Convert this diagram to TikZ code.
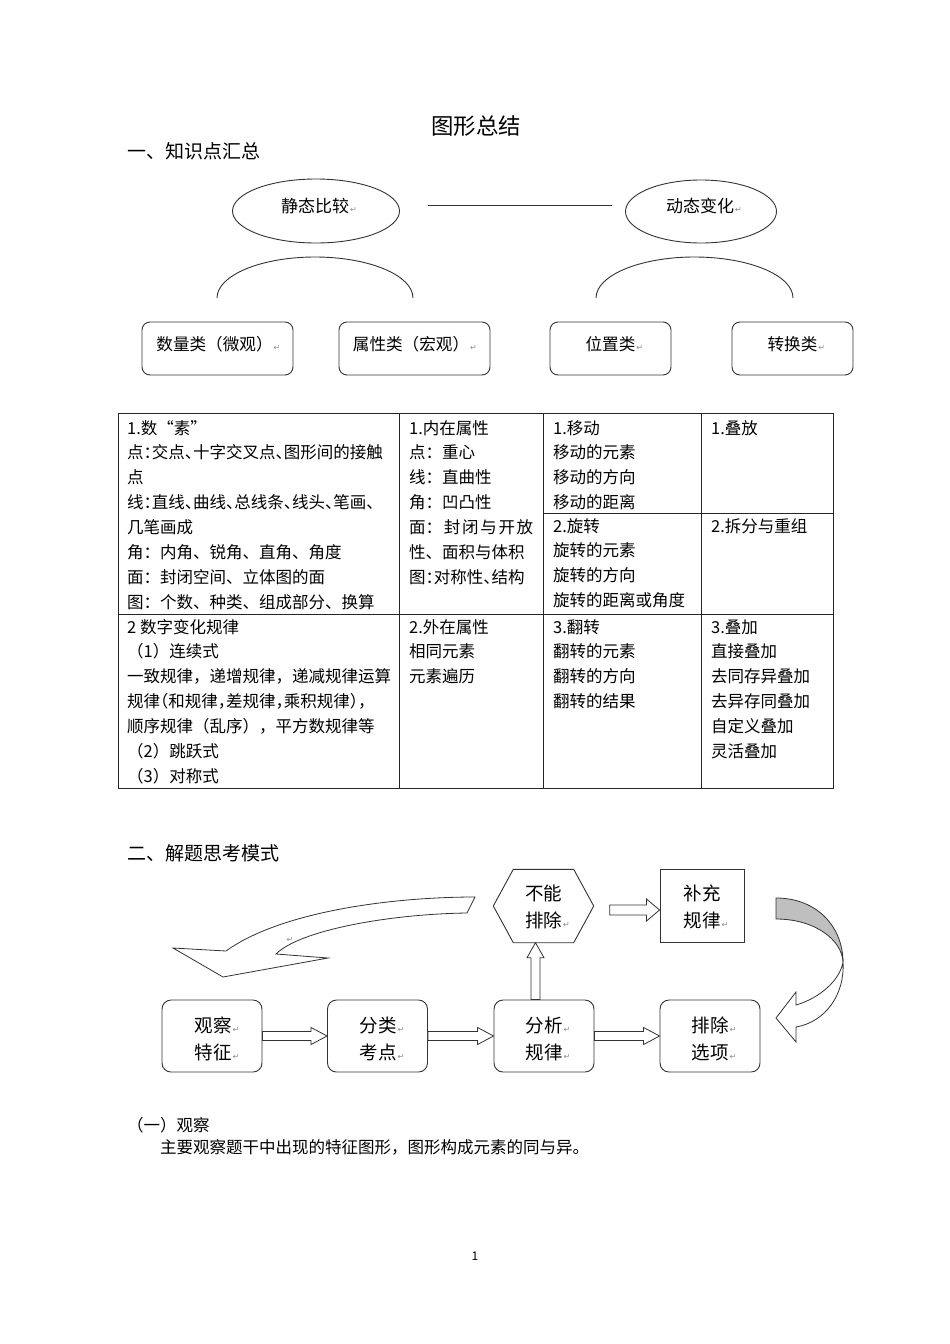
\documentclass[tikz,border=0pt]{standalone}
\usepackage{fontspec}
\setmainfont{Noto Sans CJK SC}
\newfontfamily\cjkh[RawFeature=+halt]{Noto Sans CJK SC}
\newfontfamily\djv{DejaVu Sans}
\usetikzlibrary{shapes.geometric,calc}
\newcommand\fs[1]{\fontsize{#1}{#1}\selectfont}
\newcommand\parmk{\rlap{\kern1pt{\djv\fontsize{8}{8}\selectfont\color{black!45}↵}}}
\newcommand\cellx[4]{%
  \foreach \t [count=\i] in {#4} {\node[tx, anchor=base west] (#1-\i) at (#2, #3+24.9*\i-24.9) {\t};}%
}
\begin{document}
\begin{tikzpicture}[x=1pt,y=-1pt,
  tx/.style={inner sep=0pt, font=\fs{16.5}},
  lc/.style={draw=black!80, line width=0.9pt},
  tl/.style={draw=black!85, line width=0.8pt},
  tbox/.style={lc, rounded corners=8pt, minimum height=53pt, inner sep=0pt},
  fbox/.style={lc, rounded corners=9pt, minimum width=100pt, minimum height=72pt, inner sep=0pt},
  ft/.style={inner sep=0pt, font=\fs{18.5}, anchor=base},
  blk/.style={lc, fill=white, line width=0.8pt}]
\useasboundingbox[fill=white] (0,0) rectangle (950,1344);

% title and heading
\node[inner sep=0pt, font=\fs{22.4}] (title) at (476,126) {图形总结};
\node[inner sep=0pt, font=\fs{19}, anchor=base west] (h1) at (127,158) {一、知识点汇总};

% ellipses
\node[lc, ellipse, minimum width=167pt, minimum height=64pt, inner sep=0pt] (e1) at (316,211) {};
\node[inner sep=0pt, font=\fs{17}] (e1t) at (315,206) {静态比较\parmk};
\node[lc, ellipse, minimum width=151pt, minimum height=63pt, inner sep=0pt] (e2) at (701,211.5) {};
\node[inner sep=0pt, font=\fs{17}] (e2t) at (700,206) {动态变化\parmk};
\draw[lc] ($(e1.east)+(28,-6)$) -- ($(e2.west)+(-13,-6.5)$);

% arcs
\draw[lc] (217,298) arc[start angle=180, end angle=360, x radius=98, y radius=41];
\draw[lc] (596,298) arc[start angle=180, end angle=360, x radius=98.5, y radius=41];

% category boxes
\node[tbox, minimum width=151pt] (b1) at (217.5,348.5) {};
\node[inner sep=0pt, font=\fs{16.6}] (b1t) at (214.5,344) {数量类（微观）\parmk};
\node[tbox, minimum width=151pt] (b2) at (414.5,348.5) {};
\node[inner sep=0pt, font=\fs{16.6}] (b2t) at (411,344) {属性类（宏观）\parmk};
\node[tbox, minimum width=121pt] (b3) at (610.5,348.5) {};
\node[inner sep=0pt, font=\fs{16.6}] (b3t) at (610.5,344) {位置类\parmk};
\node[tbox, minimum width=121pt] (b4) at (792.5,348.5) {};
\node[inner sep=0pt, font=\fs{16.6}] (b4t) at (792.5,344) {转换类\parmk};

% table
\draw[tl] (118,413) rectangle (833,788);
\draw[tl] (399,413) -- (399,788);
\draw[tl] (543,413) -- (543,788);
\draw[tl] (701,413) -- (701,788);
\draw[tl] (118,614) -- (833,614);
\draw[tl] (543,513) -- (833,513);

\cellx{c11}{127}{434}{1.数“素”, {\cjkh 点：交点、十字交叉点、图形间的接触}, 点, {\cjkh 线：直线、曲线、总线条、线头、笔画、}, 几笔画成, 角：内角、锐角、直角、角度, 面：封闭空间、立体图的面, 图：个数、种类、组成部分、换算}
\cellx{c21}{127}{633}{2 数字变化规律, （1）连续式, 一致规律，递增规律，递减规律运算, {\cjkh 规律（和规律，差规律，乘积规律），}, 顺序规律（乱序），平方数规律等, （2）跳跃式, （3）对称式}
\cellx{c12}{409}{434}{1.内在属性, 点：重心, 线：直曲性, 角：凹凸性, {\makebox[124pt][s]{面：\hfil 封\hfil 闭\hfil 与\hfil 开\hfil 放}}, 性、面积与体积, {\cjkh 图：对称性、结构}}
\cellx{c22}{409}{633}{2.外在属性, 相同元素, 元素遍历}
\cellx{c13}{553}{434}{1.移动, 移动的元素, 移动的方向, 移动的距离}
\cellx{c13b}{553}{532}{2.旋转, 旋转的元素, 旋转的方向, 旋转的距离或角度}
\cellx{c23}{553}{633}{3.翻转, 翻转的元素, 翻转的方向, 翻转的结果}
\cellx{c14}{711}{434}{1.叠放}
\cellx{c14b}{711}{532}{2.拆分与重组}
\cellx{c24}{711}{633}{3.叠加, 直接叠加, 去同存异叠加, 去异存同叠加, 自定义叠加, 灵活叠加}

% section 2
\node[inner sep=0pt, font=\fs{19}, anchor=base west] (h2) at (127,860) {二、解题思考模式};

% hexagon
\node[inner sep=0pt, minimum width=100pt, minimum height=73pt] (hex) at (543.5,906) {};
\draw[lc, fill=white] (hex.west) -- ($(hex.north west)+(20,0)$) -- ($(hex.north east)+(-20,0)$) -- (hex.east) -- ($(hex.south east)+(-20,0)$) -- ($(hex.south west)+(20,0)$) -- cycle;
\node[ft] (hx1) at (543.5,900) {不能};
\node[ft] (hx2) at (543.5,927) {排除\parmk};

% supplement box
\node[lc, minimum width=84pt, minimum height=73pt, inner sep=0pt] (bc) at (702,905.5) {};
\node[ft] (bc1) at (702,900) {补充};
\node[ft] (bc2) at (702,927) {规律\parmk};

% bottom boxes
\node[fbox] (o1) at (212,1036) {};
\node[ft] (o1a) at (213,1032) {观察\parmk};
\node[ft] (o1b) at (213,1059) {特征\parmk};
\node[fbox] (o2) at (377.5,1036) {};
\node[ft] (o2a) at (378,1032) {分类\parmk};
\node[ft] (o2b) at (378,1059) {考点\parmk};
\node[fbox] (o3) at (544,1036) {};
\node[ft] (o3a) at (544,1032) {分析\parmk};
\node[ft] (o3b) at (544,1059) {规律\parmk};
\node[fbox] (o4) at (710,1036) {};
\node[ft] (o4a) at (710,1032) {排除\parmk};
\node[ft] (o4b) at (710,1059) {选项\parmk};

% horizontal block arrows
\foreach \a/\b in {o1/o2, o2/o3, o3/o4}{
  \draw[blk] ($(\a.east)+(0,-4.5)$) -- ($(\b.west)+(-16,-4.5)$) -- ($(\b.west)+(-16,-8.5)$) -- (\b.west) -- ($(\b.west)+(-16,8.5)$) -- ($(\b.west)+(-16,4.5)$) -- ($(\a.east)+(0,4.5)$) -- cycle;
}

% up arrow
\coordinate (U) at (o3.north |- hex.south);
\draw[blk] ($(o3.north)+(-13,0)$) -- ($(U)+(-13,15)$) -- ($(U)+(-17,15)$) -- ($(U)+(-8.5,0)$) -- ($(U)+(0,15)$) -- ($(U)+(-4,15)$) -- ($(o3.north)+(-4,0)$) -- cycle;

% right arrow hex -> bc
\coordinate (P) at (bc.west |- hex.east);
\draw[blk] ($(hex.east)+(16,-1)$) -- ($(P)+(-13,-1)$) -- ($(P)+(-13,-7)$) -- ($(P)+(0,4)$) -- ($(P)+(-13,15)$) -- ($(P)+(-13,9)$) -- ($(hex.east)+(16,9)$) -- cycle;

% big curved arrow (left)
\draw[lc, fill=white, line width=0.8pt] (475,897) .. controls (390,897) and (280,912) .. (226,951) -- (173,948) -- (223,977) -- (328,958) -- (276,954) .. controls (300,930) and (390,914) .. (467,913) -- cycle;
\node[inner sep=0pt] (bam) at (290,940) {\djv\fontsize{8}{8}\selectfont\color{black!45}↵};

% curved arrow (right)
\draw[lc, fill=black!25, line width=0.8pt] (776,898) .. controls (818,898) and (843,928) .. (843,962) .. controls (842,940) and (815,919) .. (776,919) -- cycle;
\draw[lc, fill=white, line width=0.8pt] (843,962) .. controls (845,995) and (825,1022) .. (796,1027) -- (796,1042) -- (776,1018) -- (796,992) -- (796,1005) .. controls (820,998) and (840,980) .. (843,962) -- cycle;

% text
\node[inner sep=0pt, font=\fs{16.5}, anchor=base west] (s1) at (127,1131) {（一）观察};
\node[inner sep=0pt, font=\fs{16.5}, anchor=base west] (s2) at (160,1153) {主要观察题干中出现的特征图形，图形构成元素的同与异。};
\node[inner sep=0pt, font=\fs{12}] (pg) at (475,1256) {1};
\end{tikzpicture}
\end{document}
